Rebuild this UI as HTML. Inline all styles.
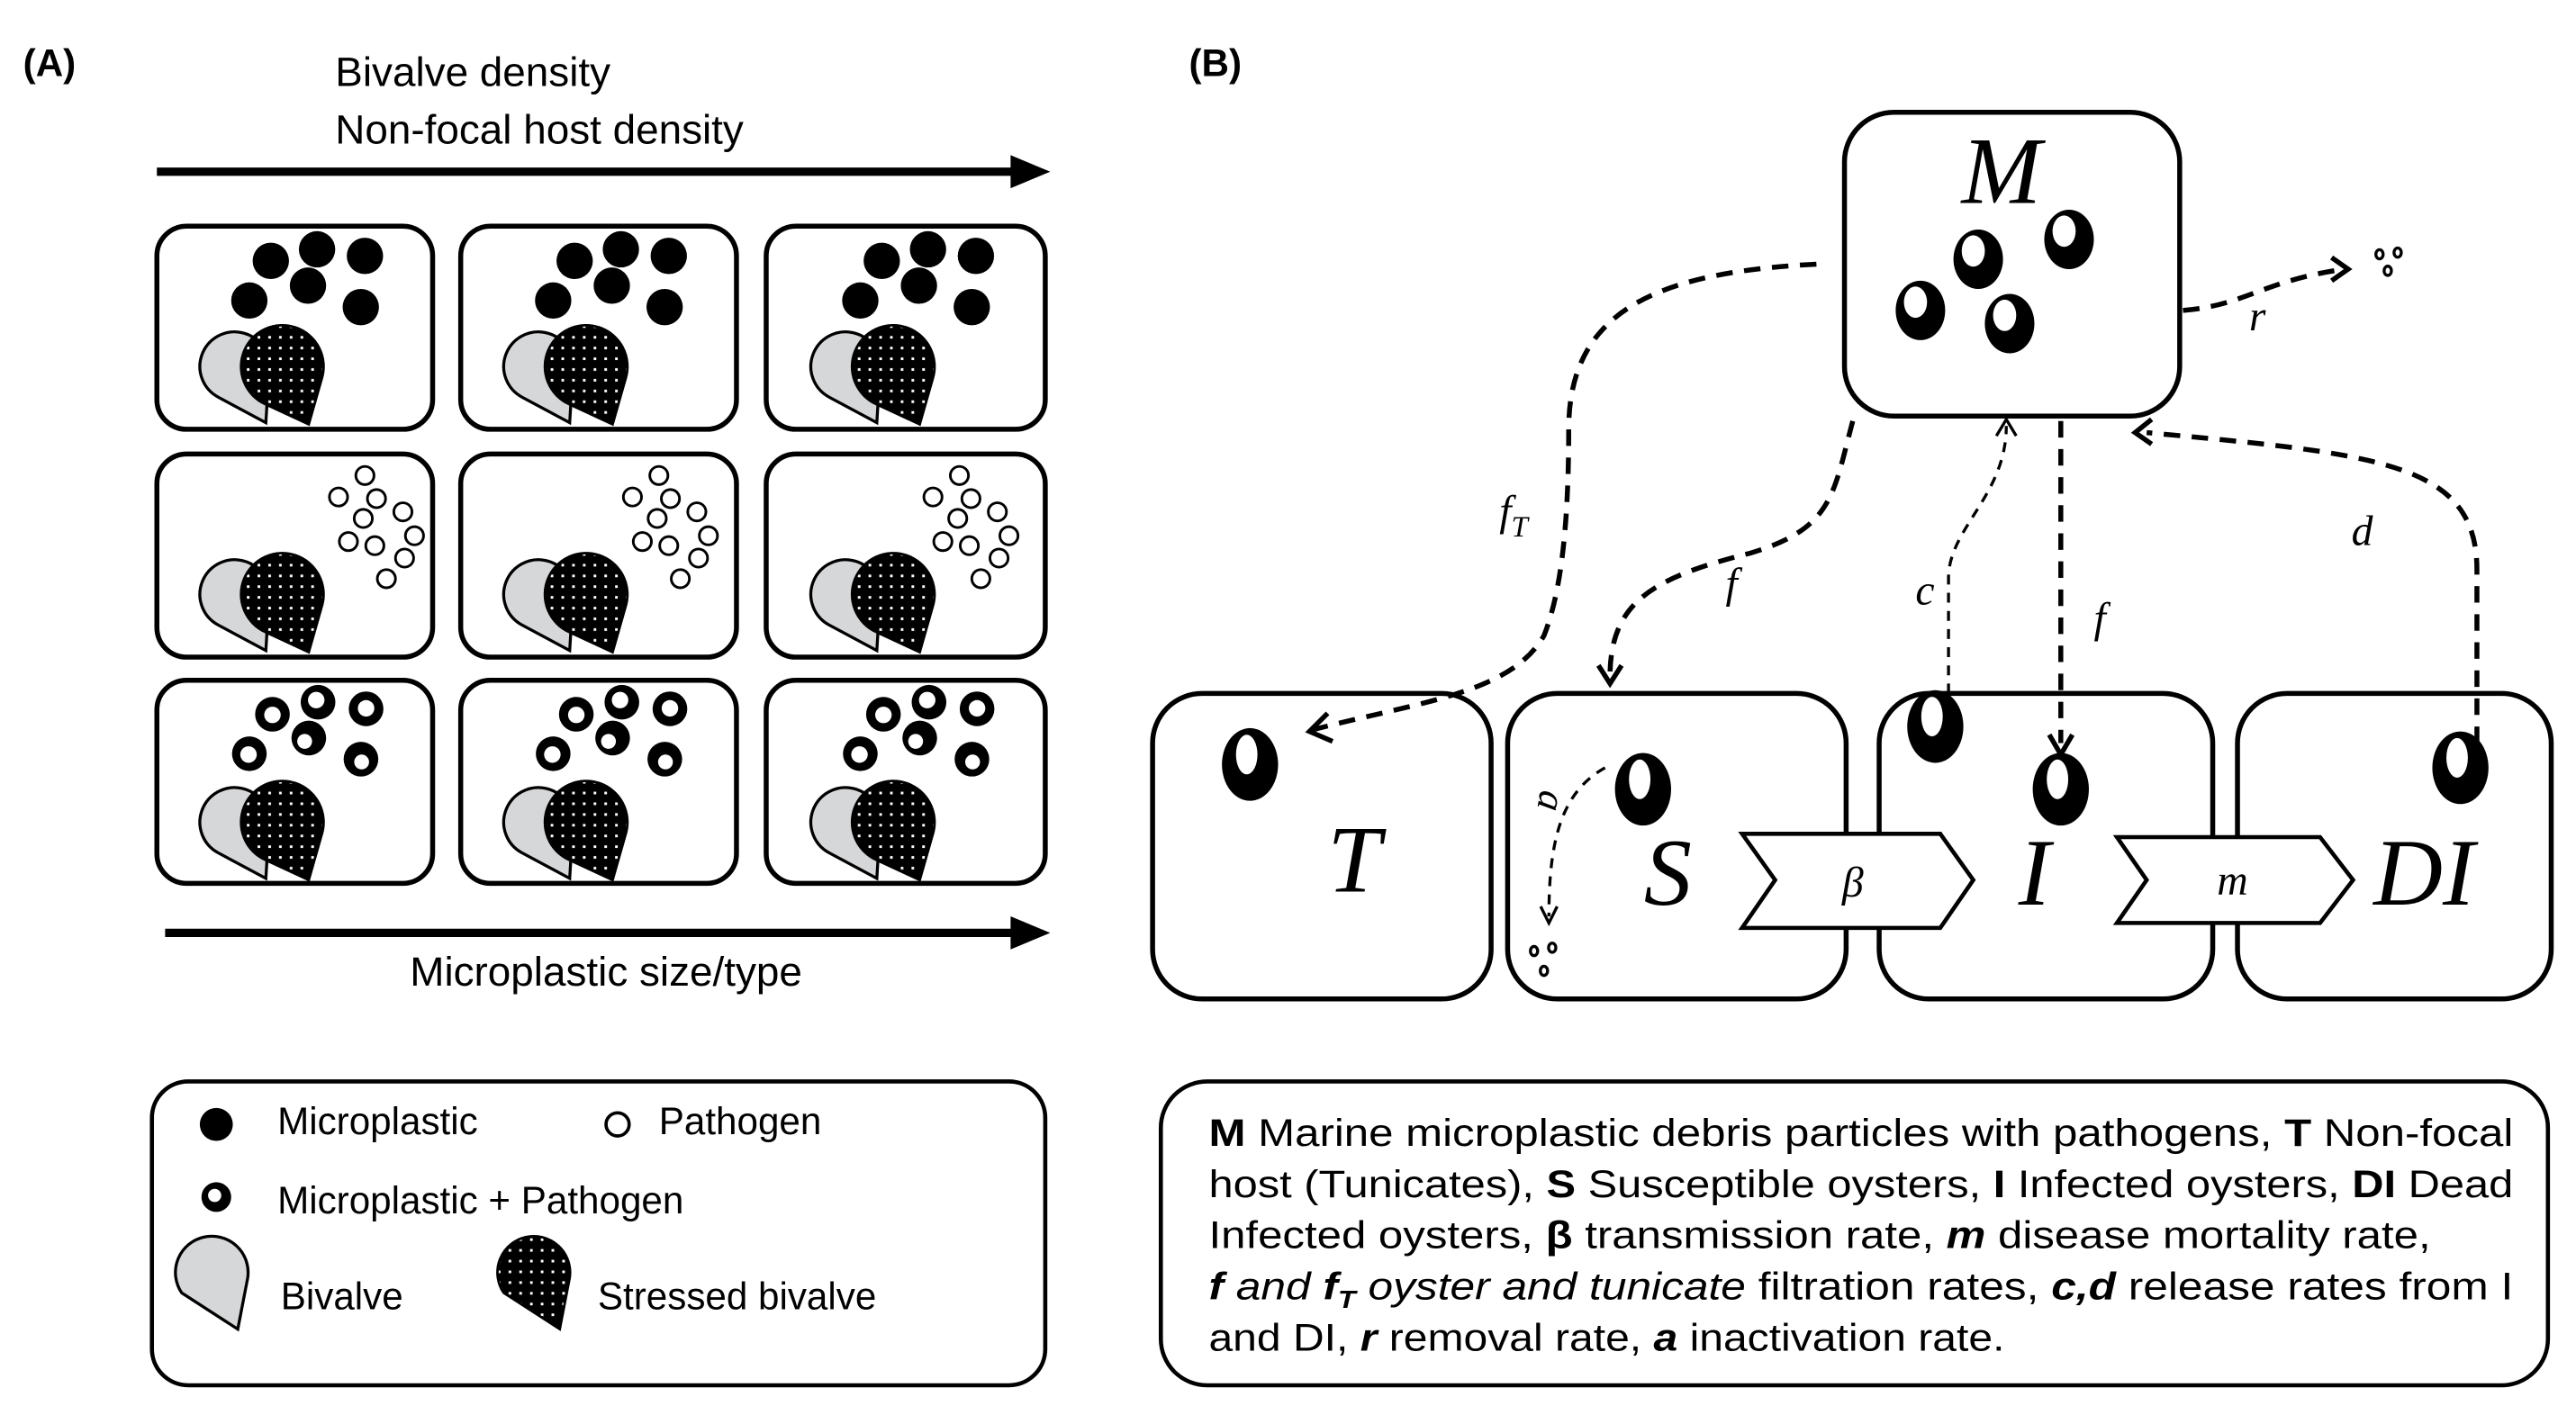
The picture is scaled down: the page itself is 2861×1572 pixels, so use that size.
<!DOCTYPE html>
<html><head><meta charset="utf-8"><style>
html,body{margin:0;padding:0;background:#fff;}
svg{display:block;}
.s{font-family:"Liberation Sans",sans-serif;}
.m{font-family:"Liberation Serif",serif;font-style:italic;}
</style></head><body>
<svg width="2861" height="1572" viewBox="0 0 1560 857" preserveAspectRatio="none" xmlns="http://www.w3.org/2000/svg">
<defs>
<pattern id="dots" width="6.5" height="6.5" patternUnits="userSpaceOnUse">
<rect width="6.5" height="6.5" fill="#000"/><rect x="2.5" y="2.5" width="1.6" height="1.6" fill="#fff"/>
</pattern>
<g id="biv">
<path d="M37.1 104.5 A21 21 0 1 1 68 87.2 L66 120 Z" fill="#d6d7d9" stroke="#000" stroke-width="1.8"/>
<path d="M65.5 108.7 A25 25 0 1 1 100 92.9 L92 121 Z" fill="url(#dots)" stroke="#000" stroke-width="1.5"/>
</g>
<g id="mp">
<circle cx="69" cy="22" r="11"/><circle cx="97" cy="15" r="11"/><circle cx="126" cy="19" r="11"/>
<circle cx="91.5" cy="37" r="11"/><circle cx="56" cy="46" r="11"/><circle cx="123.5" cy="50" r="11"/>
</g>
<g id="pa" fill="none" stroke="#000" stroke-width="1.6">
<circle cx="126" cy="14" r="5.5"/><circle cx="110" cy="27" r="5.5"/><circle cx="133" cy="28" r="5.5"/>
<circle cx="149" cy="36" r="5.5"/><circle cx="125" cy="40" r="5.5"/><circle cx="156" cy="50.5" r="5.5"/>
<circle cx="116" cy="54" r="5.5"/><circle cx="132" cy="56.5" r="5.5"/><circle cx="150" cy="64" r="5.5"/>
<circle cx="139" cy="76.5" r="5.5"/>
</g>
<g id="mpp">
<circle cx="70" cy="22.6" r="10.5"/><circle cx="97.6" cy="15.3" r="10.5"/><circle cx="126.7" cy="19.3" r="10.5"/>
<circle cx="92" cy="37" r="10.5"/><circle cx="56" cy="46.5" r="10.5"/><circle cx="123.6" cy="49.8" r="10.5"/>
<g fill="#fff"><circle cx="70" cy="23" r="5"/><circle cx="96.5" cy="14" r="5"/><circle cx="126.7" cy="19" r="5"/>
<circle cx="89.5" cy="39" r="4.5"/><circle cx="55.5" cy="47" r="5"/><circle cx="124" cy="51.5" r="4.5"/></g>
</g>
<g id="cp"><ellipse cx="0" cy="0" rx="15" ry="18"/><ellipse cx="-3" cy="-5" rx="7" ry="9.5" fill="#fff"/></g>
<g id="cpb"><ellipse cx="0" cy="0" rx="17" ry="22"/><ellipse cx="-2" cy="-6" rx="6.5" ry="12" fill="#fff"/></g>
</defs>

<!-- Panel A -->
<text x="14" y="46" class="s" font-weight="bold" font-size="23">(A)</text>
<text x="203" y="52" class="s" font-size="25">Bivalve density</text>
<text x="203" y="87" class="s" font-size="25">Non-focal host density</text>
<line x1="95" y1="104" x2="615" y2="104" stroke="#000" stroke-width="5"/>
<polygon points="612,94 636,104 612,114" fill="#000"/>

<g fill="#fff" stroke="#000" stroke-width="3">
<rect x="95" y="137" width="167" height="123" rx="18"/>
<rect x="279" y="137" width="167" height="123" rx="18"/>
<rect x="464" y="137" width="169" height="123" rx="18"/>
<rect x="95" y="275" width="167" height="123" rx="18"/>
<rect x="279" y="275" width="167" height="123" rx="18"/>
<rect x="464" y="275" width="169" height="123" rx="18"/>
<rect x="95" y="412" width="167" height="123" rx="18"/>
<rect x="279" y="412" width="167" height="123" rx="18"/>
<rect x="464" y="412" width="169" height="123" rx="18"/>
</g>
<use href="#mp" x="95" y="136"/><use href="#mp" x="279" y="136"/><use href="#mp" x="465" y="136"/>
<use href="#pa" x="95" y="274"/><use href="#pa" x="273" y="274"/><use href="#pa" x="455" y="274"/>
<use href="#mpp" x="95" y="410"/><use href="#mpp" x="279" y="410"/><use href="#mpp" x="465" y="410"/>
<use href="#biv" x="95" y="136"/><use href="#biv" x="279" y="136"/><use href="#biv" x="465" y="136"/>
<use href="#biv" x="95" y="274"/><use href="#biv" x="279" y="274"/><use href="#biv" x="465" y="274"/>
<use href="#biv" x="95" y="412"/><use href="#biv" x="279" y="412"/><use href="#biv" x="465" y="412"/>

<line x1="100" y1="565" x2="615" y2="565" stroke="#000" stroke-width="5"/>
<polygon points="612,555 636,565 612,575" fill="#000"/>
<text x="367" y="597" class="s" font-size="25" text-anchor="middle">Microplastic size/type</text>

<rect x="92" y="655" width="541" height="184" rx="22" fill="#fff" stroke="#000" stroke-width="2.5"/>
<circle cx="131" cy="681" r="10"/>
<text x="168" y="687" class="s" font-size="23">Microplastic</text>
<circle cx="374" cy="681" r="7" fill="#fff" stroke="#000" stroke-width="2"/>
<text x="399" y="687" class="s" font-size="23">Pathogen</text>
<circle cx="131" cy="725" r="9"/><circle cx="130" cy="724" r="4" fill="#fff"/>
<text x="168" y="735" class="s" font-size="23">Microplastic + Pathogen</text>
<path d="M110 783 A22 22 0 1 1 150 774 L144 805 Z" fill="#d6d7d9" stroke="#000" stroke-width="1.8"/>
<text x="170" y="793" class="s" font-size="23">Bivalve</text>
<path d="M305 783 A22 22 0 1 1 345 774 L339 805 Z" fill="url(#dots)" stroke="#000" stroke-width="1.5"/>
<text x="362" y="793" class="s" font-size="23">Stressed bivalve</text>

<!-- Panel B -->
<text x="720" y="46" class="s" font-weight="bold" font-size="23">(B)</text>

<g fill="#fff" stroke="#000" stroke-width="3">
<rect x="1117" y="68" width="203" height="184" rx="30"/>
<rect x="698" y="420" width="205" height="185" rx="30"/>
<rect x="913" y="420" width="205" height="185" rx="30"/>
<rect x="1138" y="420" width="202" height="185" rx="30"/>
<rect x="1355" y="420" width="190" height="185" rx="30"/>
</g>
<text x="1212" y="123" class="m" font-size="58" text-anchor="middle">M</text>
<use href="#cp" x="1198" y="157"/><use href="#cp" x="1253" y="145"/>
<use href="#cp" x="1163" y="188"/><use href="#cp" x="1217" y="196"/>

<use href="#cpb" x="757" y="463"/><use href="#cpb" x="995" y="478"/>
<use href="#cpb" x="1172" y="440"/><use href="#cpb" x="1248" y="478"/><use href="#cpb" x="1490" y="465"/>

<text x="820" y="540" class="m" font-size="58" text-anchor="middle">T</text>
<text x="1010" y="548" class="m" font-size="58" text-anchor="middle">S</text>
<text x="1232" y="548" class="m" font-size="58" text-anchor="middle">I</text>
<text x="1468" y="548" class="m" font-size="58" text-anchor="middle">DI</text>

<polygon points="1055,505 1175,505 1195,533 1175,562 1055,562 1075,533" fill="#fff" stroke="#000" stroke-width="2.5"/>
<text x="1122" y="543" class="m" font-size="26" text-anchor="middle">β</text>
<polygon points="1282,507 1405,507 1425,533 1405,559 1282,559 1300,533" fill="#fff" stroke="#000" stroke-width="2.5"/>
<text x="1352" y="542" class="m" font-size="26" text-anchor="middle">m</text>

<g fill="none" stroke="#000" stroke-width="3" stroke-dasharray="10,7">
<path d="M1100 160 C 1000 165, 950 190, 950 260 C 950 320, 945 360, 935 385 C 915 420, 860 425, 795 442"/>
<path d="M1122 255 C 1110 300, 1110 320, 1060 335 C 1000 350, 975 365, 975 410"/>
<path d="M1248 255 L 1248 450"/>
<path d="M1500 450 L 1500 345 C 1500 280, 1440 275, 1300 262"/>
<path d="M1322 188 C 1360 185, 1370 170, 1420 163"/>
</g>
<g fill="none" stroke="#000" stroke-width="1.8" stroke-dasharray="6,5">
<path d="M1180 420 L 1180 350 C 1180 320, 1215 300, 1215 258"/>
<path d="M972 465 C 945 480, 938 510, 938 555"/>
</g>
<g fill="none" stroke="#000" stroke-width="3">
<path d="M804 432 L 793 443 L 807 449"/>
<path d="M968 403 L 975 414 L 982 403"/>
<path d="M1241 445 L 1248 457 L 1255 445"/>
<path d="M1303 254 L 1293 262 L 1303 269"/>
<path d="M1412 156 L 1422 163 L 1412 170"/>
</g>
<path d="M1209 264 L1215 254 L1221 264" fill="none" stroke="#000" stroke-width="1.8"/>
<path d="M933 549 L938 559 L943 549" fill="none" stroke="#000" stroke-width="1.8"/>
<g fill="#fff" stroke="#000" stroke-width="1.8">
<ellipse cx="1441" cy="154" rx="2.2" ry="2.8"/><ellipse cx="1452" cy="153" rx="2.2" ry="2.8"/><ellipse cx="1446" cy="164" rx="2.2" ry="2.8"/>
<ellipse cx="929" cy="576" rx="2.2" ry="2.8"/><ellipse cx="940" cy="574" rx="2.2" ry="2.8"/><ellipse cx="935" cy="588" rx="2.2" ry="2.8"/>
</g>
<text x="908" y="318" class="m" font-size="26">f<tspan font-size="18" dy="7">T</tspan></text>
<text x="1045" y="362" class="m" font-size="26">f</text>
<text x="1160" y="366" class="m" font-size="26">c</text>
<text x="1268" y="383" class="m" font-size="26">f</text>
<text x="1424" y="330" class="m" font-size="26">d</text>
<text x="1362" y="200" class="m" font-size="26">r</text>
<text x="0" y="0" class="m" font-size="24" transform="translate(933,478) rotate(100)">a</text>

<rect x="703" y="655" width="840" height="184" rx="28" fill="#fff" stroke="#000" stroke-width="2.5"/>
<g class="s" font-size="23">
<text x="732" y="694" textLength="790" lengthAdjust="spacingAndGlyphs"><tspan font-weight="bold">M</tspan> Marine microplastic debris particles with pathogens, <tspan font-weight="bold">T</tspan> Non-focal</text>
<text x="732" y="725" textLength="790" lengthAdjust="spacingAndGlyphs">host (Tunicates), <tspan font-weight="bold">S</tspan> Susceptible oysters, <tspan font-weight="bold">I</tspan> Infected oysters, <tspan font-weight="bold">DI</tspan> Dead</text>
<text x="732" y="756" textLength="740" lengthAdjust="spacingAndGlyphs">Infected oysters, <tspan font-weight="bold">β</tspan> transmission rate, <tspan font-weight="bold" font-style="italic">m</tspan> disease mortality rate,</text>
<text x="732" y="787" textLength="790" lengthAdjust="spacingAndGlyphs"><tspan font-weight="bold" font-style="italic">f</tspan><tspan font-style="italic"> and </tspan><tspan font-weight="bold" font-style="italic">f</tspan><tspan font-weight="bold" font-style="italic" font-size="15" dy="5">T</tspan><tspan font-style="italic" dy="-5"> oyster and tunicate</tspan> filtration rates, <tspan font-weight="bold" font-style="italic">c,d</tspan> release rates from I</text>
<text x="732" y="818" textLength="482" lengthAdjust="spacingAndGlyphs">and DI, <tspan font-weight="bold" font-style="italic">r</tspan> removal rate, <tspan font-weight="bold" font-style="italic">a</tspan> inactivation rate.</text>
</g>
</svg>
</body></html>
